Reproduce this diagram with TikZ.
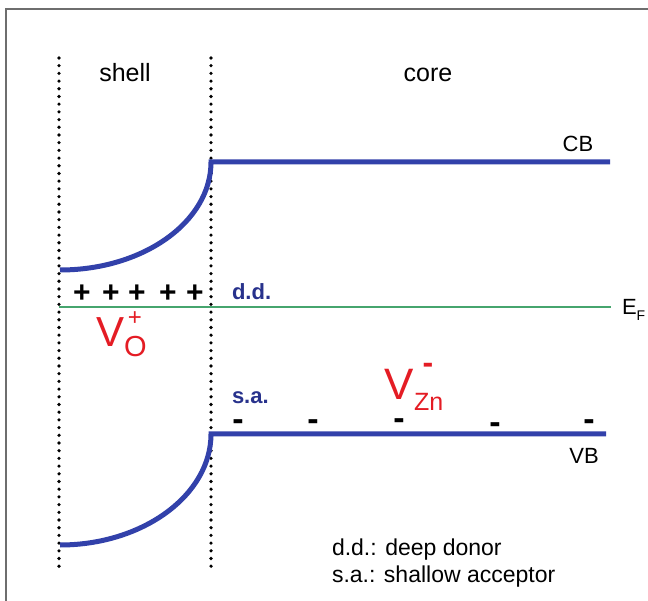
\documentclass[tikz,border=0pt]{standalone}
\usepackage{fontspec}
\setmainfont{Liberation Sans}
\definecolor{bandblue}{RGB}{50,65,170}
\definecolor{labblue}{RGB}{40,50,140}
\definecolor{fermigreen}{RGB}{70,165,110}
\definecolor{defred}{RGB}{228,28,36}
\definecolor{framegray}{RGB}{110,110,110}
\tikzset{
  band/.style={draw=bandblue, line width=5pt},
  fermi/.style={draw=fermigreen, line width=2pt},
  dotline/.style={draw=black, line width=3.6pt, line cap=round, dash pattern=on 0pt off 7.7pt},
  frame/.style={draw=framegray, line width=2pt},
  lbl/.style={inner sep=0pt, outer sep=0pt},
  region/.style={lbl, font=\fontsize{25}{25}\selectfont},
  bandlbl/.style={lbl, font=\fontsize{22}{22}\selectfont},
  lvl/.style={lbl, text=labblue, font=\fontsize{22}{22}\selectfont\bfseries},
  pluscharge/.style={lbl, font=\fontsize{30}{30}\selectfont\bfseries},
  minuscharge/.style={lbl, anchor=base, font=\fontsize{34}{34}\selectfont\bfseries},
  legend/.style={lbl, anchor=base west, font=\fontsize{23}{23}\selectfont},
  defect/.style={lbl, text=defred},
}
\begin{document}
\begin{tikzpicture}[x=1pt,y=-1pt]
\useasboundingbox (0,0) rectangle (648,601);
% frame
\coordinate (f1) at (6,601);
\coordinate (f2) at (6,9);
\coordinate (f3) at (648,9);
\draw[frame] (f1) -- (f2) -- (f3);
% dotted boundaries
\coordinate (d1t) at (59,58);
\coordinate (d1b) at (59,568);
\coordinate (d2t) at (211,58);
\coordinate (d2b) at (211,568);
\draw[dotline] (d1t) -- (d1b);
\draw[dotline] (d2t) -- (d2b);
% region labels
\node[region, anchor=base] (shell) at (125,82) {shell};
\node[region, anchor=base] (core) at (428,82) {core};
% conduction band
\coordinate (cbl) at (60,270);
\coordinate (cbc) at (211,162);
\coordinate (cbr) at (610,162);
\draw[band] (cbl) .. controls (143,270) and (211,222) .. (cbc) -- (cbr);
\node[bandlbl, anchor=base] (cb) at (578,152) {CB};
% valence band
\coordinate (vbl) at (60,545);
\coordinate (vbc) at (211,434);
\coordinate (vbr) at (606,434);
\draw[band] (vbl) .. controls (143,545) and (211,495) .. (vbc) -- (vbr);
\node[bandlbl, anchor=base] (vb) at (584,463) {VB};
% Fermi level
\coordinate (efl) at (59,307.5);
\coordinate (efr) at (611,307.5);
\draw[fermi] (efl) -- (efr);
\node[bandlbl, anchor=base west] (ef) at (622,315) {E\raisebox{-0.45ex}{\fontsize{14}{14}\selectfont F}};
% level labels
\node[lvl, anchor=base west] (dd) at (232,300) {d.d.};
\node[lvl, anchor=base west] (sa) at (232,403) {s.a.};
% positive charges
\foreach \x [count=\i] in {82,111,137,168,195}
  \node[pluscharge] (p\i) at (\x,294) {+};
% negative charges (baseline placed so the dash sits at the given height)
\foreach \x/\y [count=\i] in {238/431,313/431,399/430,495/434,589/431}
  \node[minuscharge] (m\i) at (\x,\y) {\smash{-}};
% V_O^+
\node[defect, anchor=base west, font=\fontsize{42}{42}\selectfont] (vo) at (96,347) {V};
\node[defect, anchor=base west, font=\fontsize{29}{29}\selectfont] (vosub) at (124,357) {O};
\node[defect, font=\fontsize{24}{24}\selectfont] (vosup) at (135,319) {+};
% V_Zn^-
\node[defect, anchor=base west, font=\fontsize{44}{44}\selectfont] (vzn) at (384,400) {V};
\node[defect, anchor=base west, font=\fontsize{25}{25}\selectfont] (vznsub) at (414,410) {Zn};
\node[defect, anchor=base, font=\fontsize{32}{32}\selectfont\bfseries] (vznsup) at (428,373.5) {\smash{-}};
% legend
\node[legend] (leg1) at (332,555) {d.d.: deep donor};
\node[legend] (leg2) at (332,582) {s.a.: shallow acceptor};
\end{tikzpicture}
\end{document}
